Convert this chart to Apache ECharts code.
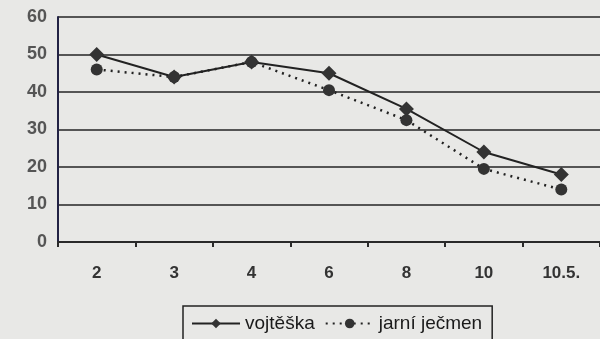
<!DOCTYPE html>
<html>
<head>
<meta charset="utf-8">
<script src="https://cdn.jsdelivr.net/npm/echarts@6/dist/echarts.min.js"></script>
<style>
    html, body { margin: 0; padding: 0; background: #e8e8e6; }
    #chart { width: 600px; height: 339px; }
</style>
</head>
<body>
<div id="chart"></div>
<script>
var kategorie = ['2', '3', '4', '6', '8', '10', '10.5.'];
var vojteska = [50, 44, 48, 45, 35.5, 24, 18];
var jecmen = [46, 44, 48, 40.5, 32.5, 19.5, 14];
var nazvy = ['vojtěška', 'jarní ječmen'];

var chart = echarts.init(document.getElementById('chart'));
var option = {
    backgroundColor: '#e8e8e6',
    animation: false,
    textStyle: { fontFamily: 'Liberation Sans' },
    grid: {
        left: 58,
        right: 0,
        top: 17,
        bottom: 97
    },
    legend: {
        data: nazvy,
        bottom: -8,
        left: 183,
        itemWidth: 48,
        itemHeight: 12,
        itemGap: 10,
        padding: [8, 10, 14, 8],
        borderColor: '#222',
        borderWidth: 1.5,
        textStyle: { fontSize: 19, color: '#1a1a1a', letterSpacing: -0.5 }
    },
    xAxis: {
        type: 'category',
        data: kategorie,
        boundaryGap: true,
        axisLine: { lineStyle: { color: '#2a2a2a', width: 2 } },
        axisTick: { show: true, length: 5, lineStyle: { color: '#2a2a2a', width: 2 } },
        axisLabel: { fontSize: 17, fontWeight: 'bold', color: '#333', margin: 23 }
    },
    yAxis: {
        type: 'value',
        min: 0,
        max: 60,
        interval: 10,
        axisLine: { show: true, lineStyle: { color: '#222244', width: 2 } },
        axisTick: { show: false },
        axisLabel: { fontSize: 18, fontWeight: 'bold', color: '#555', margin: 11 },
        splitLine: { lineStyle: { color: '#555', width: 2 } }
    },
    series: [
        {
            name: nazvy[0],
            type: 'line',
            data: vojteska,
            symbol: 'diamond',
            symbolSize: 15,
            lineStyle: { color: '#222', width: 2 },
            itemStyle: { color: '#333' }
        },
        {
            name: nazvy[1],
            type: 'line',
            data: jecmen,
            symbol: 'circle',
            symbolSize: 12,
            lineStyle: { color: '#222', width: 2.5, type: [2, 5] },
            itemStyle: { color: '#333' }
        }
    ]
};
chart.setOption(option);
</script>
</body>
</html>
